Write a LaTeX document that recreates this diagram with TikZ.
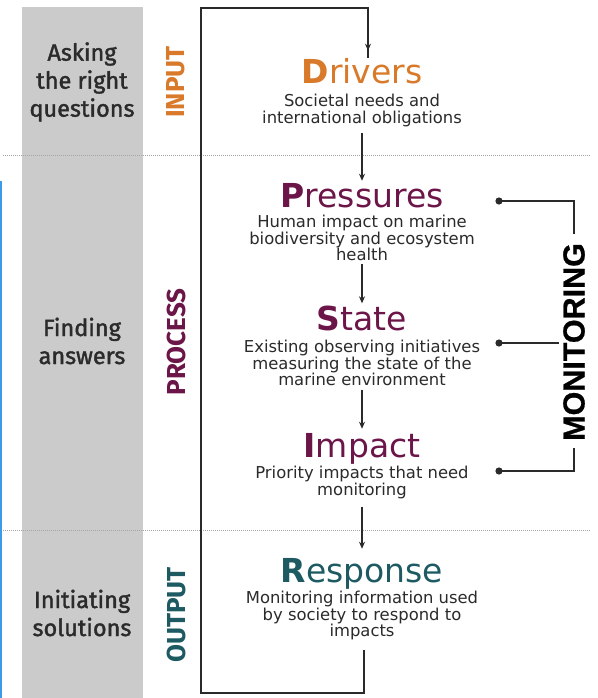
\documentclass[tikz,border=0pt]{standalone}
\usepackage{fontspec}
\setmainfont{DejaVu Sans}
\newfontfamily\lblfont[FakeBold=1.6]{Fira Sans}
\newfontfamily\stagefont{Fira Sans}
\newfontfamily\monfont[FakeBold=0.8]{Liberation Sans}
\usetikzlibrary{arrows.meta}

\definecolor{drvorange}{HTML}{D97A2B}
\definecolor{dpsirpurple}{HTML}{6B1548}
\definecolor{respteal}{HTML}{1D5A62}
\definecolor{bodygray}{HTML}{2B2B2B}
\definecolor{colgray}{HTML}{CBCBCB}
\definecolor{edgeblue}{HTML}{3D9AE6}
\definecolor{linegray}{HTML}{2A2A2A}

\tikzset{
  titletext/.style={inner sep=0pt, anchor=base, font=\fontsize{33}{36}\selectfont},
  desctext/.style={inner sep=0pt, anchor=north, align=center, text=bodygray,
    font=\fontsize{16.4}{16.5}\selectfont},
  sidelbl/.style={inner sep=0pt, align=center, text=bodygray,
    font=\lblfont\fontsize{23.5}{28}\selectfont},
  stagelbl/.style={inner sep=0pt, rotate=90, font=\stagefont\bfseries\fontsize{26}{28}\selectfont},
  monlbl/.style={inner sep=0pt, rotate=90, text=black, font=\monfont\bfseries\fontsize{30.5}{32}\selectfont},
  flow/.style={draw=linegray, line width=1.4pt, -{Stealth[length=7pt,width=6pt]}},
  loopline/.style={draw=linegray, line width=1.8pt},
  bracket/.style={draw=linegray, line width=1.4pt},
  dotline/.style={draw=gray!70, line width=1pt, dash pattern=on 0.9pt off 1.1pt},
  monitordot/.style={fill=linegray}
}

\begin{document}
\begin{tikzpicture}[x=1pt,y=-1pt]
  \useasboundingbox (0,0) rectangle (597,698);
  \fill[white] (0,0) rectangle (597,698);

  % left column and edge
  \fill[colgray] (22,7) rectangle (143,698);
  \fill[edgeblue] (0,181) rectangle (2,698);

  % section separators
  \draw[dotline] (3,155) -- (590,155);
  \draw[dotline] (3,530) -- (590,530);

  % left column labels
  \node[sidelbl] (ask) at (82,82) {Asking\\the right\\questions};
  \node[sidelbl] (find) at (82,341) {Finding\\answers};
  \node[sidelbl] (init) at (82,613) {Initiating\\solutions};

  % stage labels
  \node[stagelbl, text=drvorange] (inp) at (176,82) {INPUT};
  \node[stagelbl, text=dpsirpurple] (proc) at (176,342) {PROCESS};
  \node[stagelbl, text=respteal] (outp) at (176,615) {OUTPUT};

  % DPSIR chain
  \node[titletext, text=drvorange] (drv) at (362,84) {{\bfseries D}rivers};
  \node[desctext] (drvd) at (362,94) {Societal needs and\\international obligations};

  \node[titletext, text=dpsirpurple] (pre) at (362,207) {{\bfseries P}ressures};
  \node[desctext] (pred) at (362,215) {Human impact on marine\\biodiversity and ecosystem\\health};

  \node[titletext, text=dpsirpurple] (sta) at (362,330) {{\bfseries S}tate};
  \node[desctext] (stad) at (362,340) {Existing observing initiatives\\measuring the state of the\\marine environment};

  \node[titletext, text=dpsirpurple] (imp) at (362,457) {{\bfseries I}mpact};
  \node[desctext] (impd) at (362,466) {Priority impacts that need\\monitoring};

  \node[titletext, text=respteal] (res) at (362,582) {{\bfseries R}esponse};
  \node[desctext] (resd) at (362,591) {Monitoring information used\\by society to respond to\\impacts};

  % arrows between stages
  \draw[flow, shorten <=6pt, shorten >=2pt] (drvd.south) -- (pre.north);
  \draw[flow, shorten <=3pt, shorten >=2pt] (pred.south) -- (sta.north);
  \draw[flow, shorten <=4pt, shorten >=4pt] (stad.south) -- (imp.north);
  \draw[flow, shorten <=8pt, shorten >=9pt] (impd.south) -- (res.north);

  % feedback loop from Response back to Drivers
  \coordinate (loopbl) at (201,693);
  \coordinate (looptl) at (201,8);
  \draw[loopline] ([xshift=2pt,yshift=-10pt]resd.south) |- (loopbl) -- (looptl)
    -| ([xshift=6pt,yshift=1pt]drv.north);
  \draw[flow] ([xshift=6pt,yshift=14pt]drv.north) -- ([xshift=6pt,yshift=8pt]drv.north);

  % monitoring bracket
  \node[monlbl] (mon) at (574,342) {MONITORING};
  \coordinate (mp) at (499,201);
  \coordinate (ms) at (499,343);
  \coordinate (mi) at (499,471);
  \draw[bracket] (mp) -| ([yshift=9pt]mon.east);
  \draw[bracket] (mi) -| ([yshift=-7pt]mon.west);
  \draw[bracket] (ms) -- ([xshift=-4pt]ms -| mon.north);
  \fill[monitordot] (mp) circle (3.6pt);
  \fill[monitordot] (ms) circle (3.6pt);
  \fill[monitordot] (mi) circle (3.6pt);
\end{tikzpicture}
\end{document}
